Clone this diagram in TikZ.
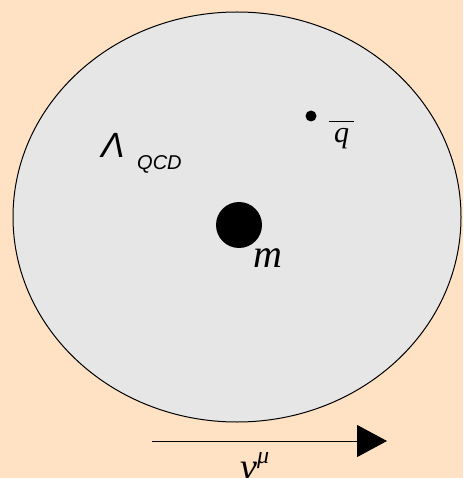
\documentclass[tikz,border=0pt]{standalone}
\usepackage{fontspec}
\setmainfont{Liberation Serif}
\newfontfamily\arialfont{Liberation Sans}
\usetikzlibrary{arrows.meta}
\definecolor{peach}{RGB}{255,225,195}
\definecolor{discgray}{RGB}{230,230,230}

\begin{document}
\begin{tikzpicture}[x=1pt, y=-1pt, every node/.style={inner sep=0pt}]
  \fill[peach] (0,0) rectangle (463,478);
  \useasboundingbox (0,0) rectangle (463,478);
  \draw[fill=discgray, line width=1pt] (237,217) ellipse [x radius=224, y radius=205];
  \node[circle, fill=black, minimum size=46pt] (heavy) at (239,225) {};
  \node[circle, fill=black, minimum size=11pt] (antiq) at (311,116) {};
  \node[anchor=base west, font=\fontsize{40}{40}\selectfont\itshape] (mass) at (253,267) {m};
  \node[anchor=base west, font=\fontsize{30}{30}\selectfont\itshape] (qbar) at (329,143) {$\overline{\mbox{\vphantom{d}\,q\,}}$};
  \node[anchor=base west, font=\fontsize{35}{35}\selectfont\arialfont\itshape] (lam) at (101,158) {Λ};
  \node[anchor=base west, font=\fontsize{20}{20}\selectfont\arialfont\itshape] (qcd) at (137,170) {QCD};
  \coordinate (vstart) at (152,441);
  \coordinate (vend) at (387,441);
  \draw[line width=1pt, -{Triangle[length=30pt, width=32pt]}] (vstart) -- (vend);
  \node[anchor=base west, font=\fontsize{38}{38}\selectfont\itshape] (vel) at (240,479) {v\raisebox{0.42em}{\fontsize{24}{24}\selectfont μ}};
\end{tikzpicture}
\end{document}
